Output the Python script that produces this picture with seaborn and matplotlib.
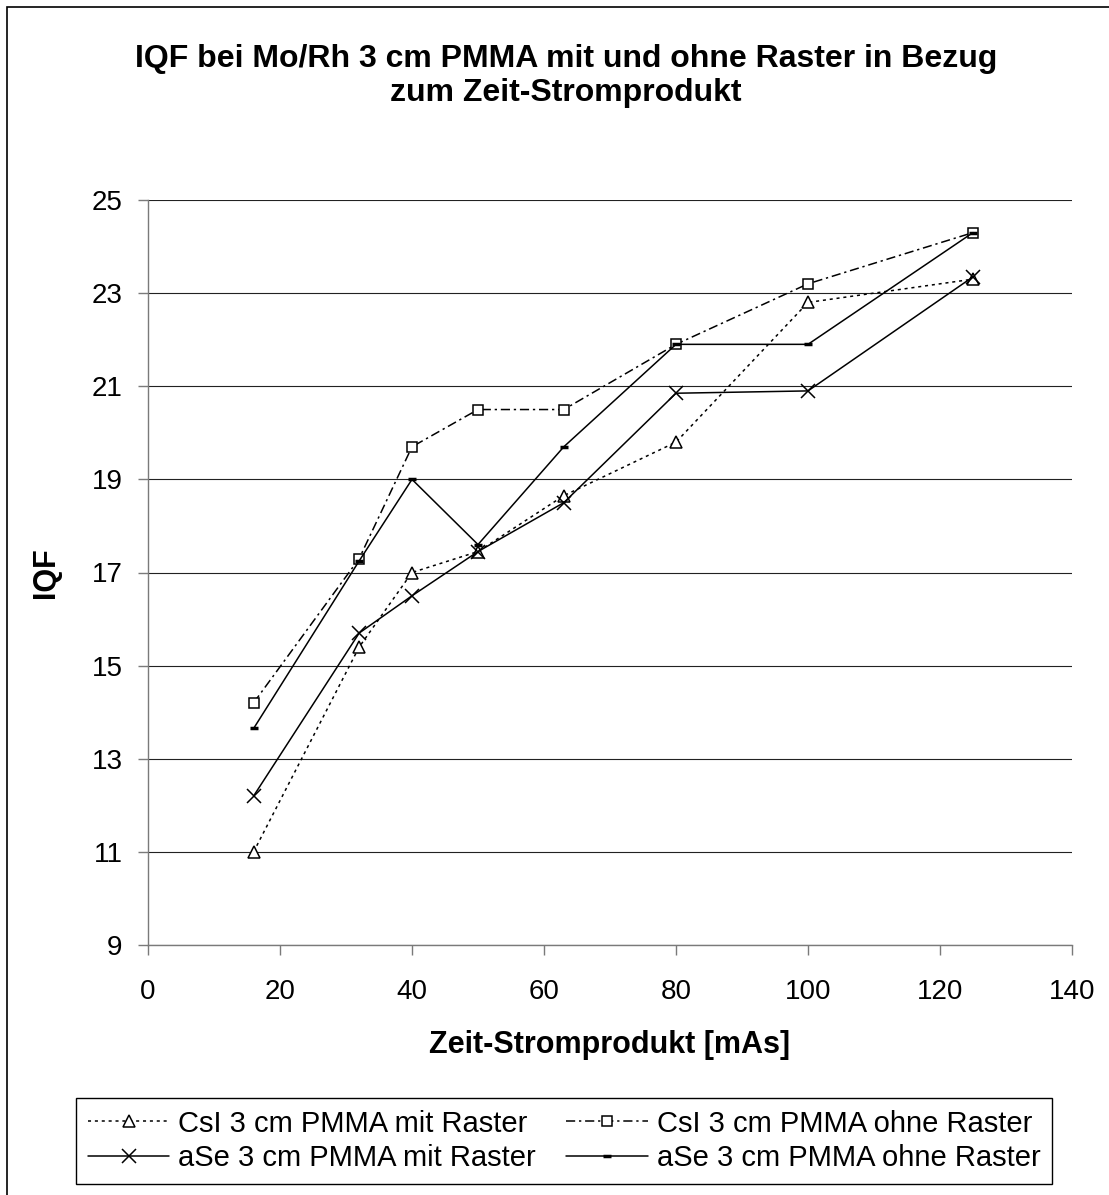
import matplotlib
matplotlib.use("Agg")
import matplotlib.pyplot as plt
from matplotlib.patches import Rectangle
import seaborn as sns

# Zeit-Stromprodukt in mAs
mas = [16, 32, 40, 50, 63, 80, 100, 125]

# IQF values per detector / setup
csi_mit = [11.0, 15.4, 17.0, 17.45, 18.65, 19.8, 22.8, 23.3]
csi_ohne = [14.2, 17.3, 19.7, 20.5, 20.5, 21.9, 23.2, 24.3]
ase_mit = [12.2, 15.7, 16.5, 17.45, 18.5, 20.85, 20.9, 23.35]
ase_ohne = [13.65, 17.25, 19.0, 17.6, 19.7, 21.9, 21.9, 24.3]

labels = [
    "CsI 3 cm PMMA mit Raster",
    "CsI 3 cm PMMA ohne Raster",
    "aSe 3 cm PMMA mit Raster",
    "aSe 3 cm PMMA ohne Raster",
]

title = "IQF bei Mo/Rh 3 cm PMMA mit und ohne Raster in Bezug\nzum Zeit-Stromprodukt"
x_label = "Zeit-Stromprodukt [mAs]"
y_label = "IQF"
x_ticks = [0, 20, 40, 60, 80, 100, 120, 140]
y_ticks = [9, 11, 13, 15, 17, 19, 21, 23, 25]

sns.set_theme(style="white")
plt.rcParams["font.family"] = ["Liberation Sans", "DejaVu Sans"]
plt.rcParams["text.color"] = "black"
plt.rcParams["axes.labelcolor"] = "black"

W, H = 1109, 1195
fig = plt.figure(figsize=(W / 100, H / 100), dpi=100)
ax = fig.add_axes([148 / W, 1 - 945 / H, (1072 - 148) / W, (945 - 200) / H])

styles = [
    dict(y=csi_mit, marker="^", ms=8.5, mew=1.1, ls=(0, (2, 2.5))),
    dict(y=csi_ohne, marker="s", ms=7.5, mew=1.1, ls=(0, (6, 2.5, 1.5, 2.5))),
    dict(y=ase_mit, marker="x", ms=9.5, mew=1.1, ls="-"),
    dict(y=ase_ohne, marker="_", ms=5.5, mew=2.5, ls="-"),
]

handles = []
for lab, st in zip(labels, styles):
    sns.lineplot(
        x=mas, y=st["y"], ax=ax, label=lab, color="black",
        linewidth=1.1, linestyle=st["ls"], marker=st["marker"],
        markersize=st["ms"], markeredgewidth=st["mew"],
        markerfacecolor="white", markeredgecolor="black",
        zorder=3,
    )
    handles.append(ax.lines[-1])

ax.set_xlim(0, 140)
ax.set_ylim(9, 25)
ax.set_xticks(x_ticks)
ax.set_yticks(y_ticks)
ax.yaxis.grid(True, color="#222222", linewidth=0.8)
ax.xaxis.grid(False)
ax.set_axisbelow(True)

for side in ["top", "right"]:
    ax.spines[side].set_visible(False)
for side in ["left", "bottom"]:
    ax.spines[side].set_color("#7a7a7a")
    ax.spines[side].set_linewidth(1.0)

ax.tick_params(axis="both", which="major", direction="out", length=7.2,
               width=1.0, color="#7a7a7a", labelsize=20, labelcolor="black",
               left=True, bottom=True)
ax.tick_params(axis="y", pad=11)
ax.tick_params(axis="x", pad=17)

ax.set_xlabel(x_label, fontsize=22, fontweight="bold", labelpad=18)
ax.set_ylabel(y_label, fontsize=22, fontweight="bold", labelpad=22)

fig.text(566 / W, 1 - 76 / H, title, ha="center", va="center",
         fontsize=23, fontweight="bold", linespacing=1.2)

order = [0, 2, 1, 3]
leg = ax.legend(
    [handles[i] for i in order], [labels[i] for i in order],
    ncol=2, loc="upper left",
    bbox_to_anchor=(76 / W, 1 - 1098 / H), bbox_transform=fig.transFigure,
    fontsize=21, frameon=True, fancybox=False, shadow=False,
    edgecolor="black", framealpha=1, handlelength=2.8, handletextpad=0.3,
    columnspacing=1.05, borderpad=0.4, labelspacing=0.22, borderaxespad=0,
    numpoints=1,
)
leg.get_frame().set_linewidth(1.0)

# chart area frame (runs off the right and bottom edges of the canvas)
fig.patches.append(Rectangle((7 / W, -0.01), 1.02, 1 - 7 / H + 0.01,
                             transform=fig.transFigure, fill=False,
                             edgecolor="black", linewidth=1.2))

fig.savefig("out.png", dpi=100, facecolor="white")
